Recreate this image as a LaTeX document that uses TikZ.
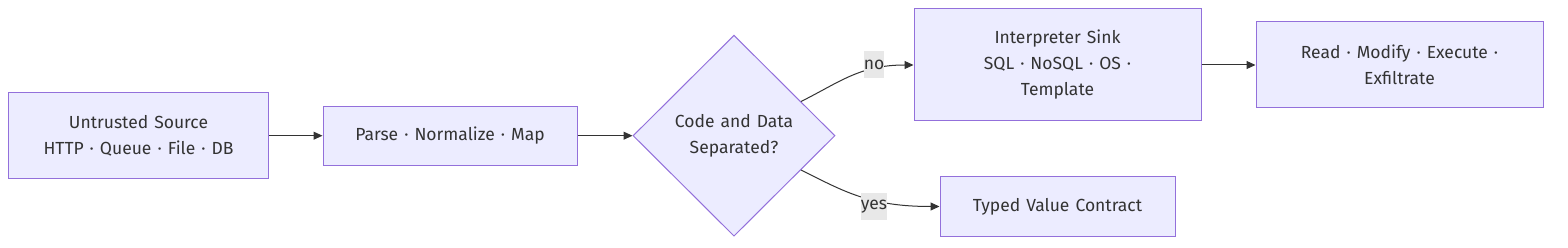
\documentclass[tikz,border=0pt]{standalone}
\usepackage{fontspec}
\setmainfont[WordSpace=1.3]{Fira Sans}
\usetikzlibrary{shapes.geometric,arrows.meta}
\definecolor{nodefill}{HTML}{ECECFF}
\definecolor{nodeline}{HTML}{9370DB}
\definecolor{ink}{HTML}{333333}
\definecolor{lblbg}{HTML}{E8E8E8}
\begin{document}
\begin{tikzpicture}[x=1pt,y=-1pt,
  every node/.style={font=\fontsize{17.5}{26}\selectfont, text=ink},
  box/.style={draw=nodeline, fill=nodefill, line width=1pt, align=center, inner sep=0pt},
  dec/.style={draw=nodeline, fill=nodefill, line width=1pt, diamond, align=center, inner sep=0pt, minimum width=202pt, minimum height=201pt},
  edge/.style={draw=ink, line width=1pt, -{Triangle[length=9pt,width=8pt]}},
  lbl/.style={fill=lblbg, inner sep=0pt, minimum height=27pt, text=ink}]
\useasboundingbox (0,0) rectangle (1568,248);
\node[box, minimum width=260pt, minimum height=86pt] (src) at (138.5,135.7) {Untrusted Source\\HTTP · Queue · File · DB};
\node[box, minimum width=254pt, minimum height=59pt] (parse) at (450,135.7) {Parse · Normalize · Map};
\node[dec] (sep) at (734,135.7) {Code and Data\\Separated?};
\node[box, minimum width=287pt, minimum height=112pt] (sink) at (1057.5,65) {Interpreter Sink\\SQL · NoSQL · OS ·\\Template};
\node[box, minimum width=287pt, minimum height=86pt] (rme) at (1399.5,65) {Read · Modify · Execute ·\\Exfiltrate};
\node[box, minimum width=235pt, minimum height=59pt] (typed) at (1057.5,206.5) {Typed Value Contract};
\coordinate (noStart) at (801,101.5);
\coordinate (yesStart) at (801,170);
\draw[edge] (src.east) -- (parse.west);
\draw[edge] (parse.east) -- (sep.west);
\draw[edge] (noStart) .. controls (840,82) and (860,65) .. (sink.west);
\draw[edge] (yesStart) .. controls (845,192) and (870,206.5) .. (typed.west);
\node[lbl] (no) at (874,65) {no};
\node[lbl] (yes) at (874,206.5) {yes};
\draw[edge] (sink.east) -- (rme.west);
\end{tikzpicture}
\end{document}
